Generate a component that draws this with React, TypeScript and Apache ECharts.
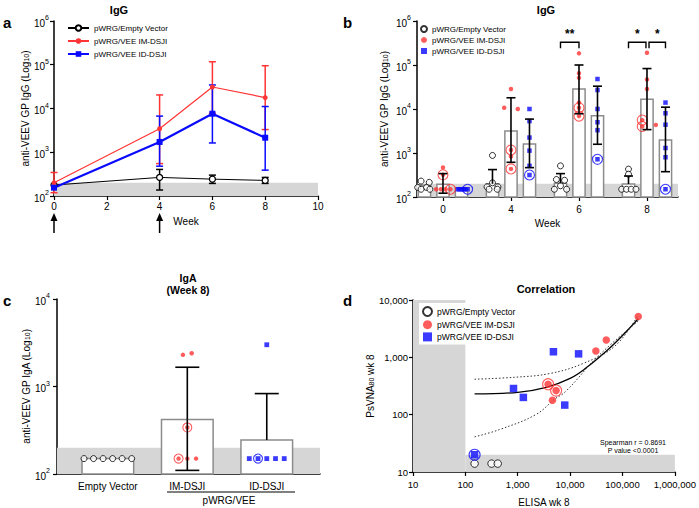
import React, { useEffect, useRef } from 'react';
import * as echarts from 'echarts';

const FONT = '"Liberation Sans", Arial, Helvetica, sans-serif';
const RED = '#ff3434';
const BLUE = '#0a0aff';
const BAND = '#d6d6d6';
const BARLINE = '#8c8c8c';

const NAME_EMPTY = 'pWRG/Empty Vector';
const NAME_IM = 'pWRG/VEE IM-DSJI';
const NAME_ID = 'pWRG/VEE ID-DSJI';
const LOD_LOW = 100;
const LOD_HIGH = 200;

// ---------- panel a ----------
const aWeeks = [0, 4, 6, 8];
const aEmptyMean = [178, 266, 243, 227];
const aEmptyLow = [178, 137, 194, 194];
const aEmptyHigh = [178, 405, 300, 266];
const aImMean = [200, 3450, 31000, 17800];
const aImLow = [119, 550, 7800, 3300];
const aImHigh = [345, 20400, 117000, 95000];
const aIdMean = [155, 1720, 7600, 2150];
const aIdLow = [155, 480, 1630, 390];
const aIdHigh = [155, 6700, 34500, 11100];
const aDoseWeeks = [0, 4];

// ---------- panel b ----------
const bWeeks = ['0', '4', '6', '8'];
const bEmptyMean = [185, 200, 205, 197];
const bEmptyLow = [185, 200, 205, 197];
const bEmptyHigh = [185, 420, 340, 300];
const bImMean = [195, 3160, 28500, 16600];
const bImLow = [122, 615, 7800, 3400];
const bImHigh = [340, 18000, 100000, 83000];
const bIdMean = [160, 1600, 7000, 1970];
const bIdLow = [160, 465, 1580, 376];
const bIdHigh = [160, 5900, 33000, 11000];

const bEmptyPts = [
  [230, 215, 165, 165, 150, 150],
  [880, 210, 170, 170, 150, 150],
  [510, 250, 240, 180, 150, 150],
  [430, 330, 150, 150, 150, 150],
];
const bEmptyJit = [
  [-0.05, 0.07, -0.1, 0.03, -0.05, 0.08],
  [0, 0, -0.08, 0.08, -0.05, 0.07],
  [0, -0.06, 0.06, 0, -0.09, 0.09],
  [0, 0, -0.1, -0.03, 0.04, 0.11],
];
const bImPts = [
  [470, 320, 150, 150, 150, 150],
  [28500, 10700, 10000, 1170, 830, 435],
  [184000, 65000, 51000, 13900, 10700, 6900],
  [190000, 47000, 28500, 5600, 4350, 4000],
];
const bImJit = [
  [0, 0, -0.1, -0.03, 0.04, 0.11],
  [0, -0.1, 0.1, 0, 0, 0],
  [0, 0, 0, 0, 0, 0],
  [0, 0, 0, -0.07, 0.13, -0.07],
];
const bImCircled = [[1, 5], [3, 5], [4, 5], [3, 5]];
const bIdPts = [
  [150, 150, 150, 150, 150, 150],
  [10000, 5300, 2240, 1130, 510, 316],
  [48000, 27000, 10000, 5000, 3300, 720],
  [14000, 8000, 4400, 1300, 800, 150],
];
const bIdJit = [
  [-0.06, -0.03, 0, 0.03, 0.05, 0.09],
  [0, 0, 0, 0, 0, 0],
  [0, 0, 0, 0, 0, 0],
  [0, 0, 0, 0, 0, 0],
];
const bIdCircled = [[5], [5], [5], [5]];
// significance brackets: group index, from series, to series, label
const bSigGroup = [2, 3, 3];
const bSigFrom = [0, 0, 1];
const bSigTo = [1, 1, 2];
const bSigLabel = ['**', '*', '*'];
const bSigTop = 328000;
const bSigLeg = 240000;

// ---------- panel c ----------
const cCats = ['Empty Vector', 'IM-DSJI', 'ID-DSJI'];
const cMean = [150, 420, 245];
const cLow = [150, 110, 245];
const cHigh = [150, 1660, 830];
const cEmptyPts = [150, 150, 150, 150, 150, 150];
const cEmptyJit = [-0.3, -0.18, -0.06, 0.06, 0.18, 0.3];
const cImPts = [2300, 2400, 340, 150, 150, 150];
const cImJit = [-0.055, 0.055, 0, -0.11, 0, 0.11];
const cImCircled = [2, 3];
const cIdPts = [3000, 150, 150, 150, 150, 150];
const cIdJit = [0, -0.22, -0.11, 0, 0.11, 0.22];
const cIdCircled = [2];

// ---------- panel d ----------
const dEmpty = [[150, 14], [316, 14], [415, 14]];
const dIm = [[200000, 5150], [49000, 2000], [31000, 1290], [3800, 340], [5400, 263], [4600, 178]];
const dImCircled = [3, 4];
const dId = [[4800, 1250], [14500, 1150], [830, 286], [1280, 200], [7900, 147], [150, 20]];
const dIdCircled = [5];
const dFit = [[150, 230], [1000, 245], [3500, 300], [10000, 430], [20000, 650], [50000, 1300], [100000, 2400], [200000, 4700]];
const dUpper = [[150, 415], [900, 450], [4000, 520], [17000, 770], [72000, 1580], [200000, 5500]];
const dLower = [[150, 41], [450, 55], [2200, 100], [5200, 190], [8100, 250], [35000, 1070], [200000, 4300]];
const dBands = [[10, 10, 100, 10000], [100, 10, 1000000, 20]];
const dStats = ['Spearman r = 0.8691', 'P value <0.0001'];

const B_OFF = [-0.272, 0, 0.272];

const axisLine = { show: true, onZero: false, lineStyle: { color: '#000', width: 1.5 } };
const axisTick = { show: true, length: 4, lineStyle: { color: '#000', width: 1.2 } };
const supRich = {
  n: { fontSize: 10, fontFamily: FONT, color: '#000', lineHeight: 14, verticalAlign: 'bottom' },
  s: { fontSize: 7, fontFamily: FONT, color: '#000', lineHeight: 7, verticalAlign: 'top' },
};
const subRich = {
  sub: { fontSize: 7, fontFamily: FONT, color: '#000', verticalAlign: 'bottom', lineHeight: 7 },
};
const logFmt = (v: number) => `{n|10}{s|${Math.round(Math.log10(v))}}`;
const commaFmt = (v: number) => Math.round(v).toLocaleString('en-US');

function bandSeries(xi: number, lo: number, hi: number) {
  return {
    type: 'custom', xAxisIndex: xi, yAxisIndex: xi, z: 1, silent: true, clip: false,
    encode: { x: 0, y: 1 },
    data: [[0, lo, hi]],
    renderItem: (params: any, api: any) => {
      const cs = params.coordSys;
      const yl = api.coord([0, api.value(1)])[1];
      const yh = api.coord([0, api.value(2)])[1];
      return { type: 'rect', shape: { x: cs.x, y: yh, width: cs.width, height: yl - yh }, style: { fill: BAND } };
    },
  };
}

function barSeries(xi: number, data: number[][], w: number) {
  return {
    type: 'custom', xAxisIndex: xi, yAxisIndex: xi, z: 2, silent: true, clip: false,
    encode: { x: 0, y: 1 },
    data,
    renderItem: (params: any, api: any) => {
      const x = api.value(0), v = api.value(1);
      const pl = api.coord([x - w / 2, v]);
      const pr = api.coord([x + w / 2, v]);
      const bottom = params.coordSys.y + params.coordSys.height;
      return {
        type: 'rect',
        shape: { x: pl[0], y: pl[1], width: pr[0] - pl[0], height: bottom - pl[1] },
        style: { fill: '#fff', stroke: BARLINE, lineWidth: 1.5 },
      };
    },
  };
}

function errSeries(xi: number, data: number[][], color: string, cap: number, lw: number, z: number) {
  return {
    type: 'custom', xAxisIndex: xi, yAxisIndex: xi, z, silent: true, clip: false,
    encode: { x: 0, y: 1 },
    data,
    renderItem: (params: any, api: any) => {
      const x = api.value(0), m = api.value(1), lo = api.value(2), hi = api.value(3);
      const pm = api.coord([x, m]);
      const pl = api.coord([x, lo]);
      const ph = api.coord([x, hi]);
      const st = { stroke: color, lineWidth: lw };
      const ch: any[] = [];
      if (hi > m) {
        ch.push({ type: 'line', shape: { x1: pm[0], y1: pm[1], x2: ph[0], y2: ph[1] }, style: st });
        ch.push({ type: 'line', shape: { x1: ph[0] - cap / 2, y1: ph[1], x2: ph[0] + cap / 2, y2: ph[1] }, style: st });
      }
      if (lo < m) {
        ch.push({ type: 'line', shape: { x1: pm[0], y1: pm[1], x2: pl[0], y2: pl[1] }, style: st });
        ch.push({ type: 'line', shape: { x1: pl[0] - cap / 2, y1: pl[1], x2: pl[0] + cap / 2, y2: pl[1] }, style: st });
      }
      return { type: 'group', children: ch };
    },
  };
}

function scatter(name: string, xi: number, data: number[][], symbol: string, size: number, itemStyle: any, z = 4) {
  return {
    type: 'scatter', name, xAxisIndex: xi, yAxisIndex: xi, z, silent: true,
    symbol, symbolSize: size, itemStyle, data, emphasis: { disabled: true },
  };
}

const ring = (color: string) => ({ color: 'rgba(0,0,0,0)', borderColor: color, borderWidth: 1.1 });

function buildOption() {
  const series: any[] = [];

  // ===== panel a =====
  series.push(bandSeries(0, LOD_LOW, LOD_HIGH));
  const aErr = (mean: number[], lo: number[], hi: number[]) => aWeeks.map((w, i) => [w, mean[i], lo[i], hi[i]]);
  series.push(errSeries(0, aErr(aEmptyMean, aEmptyLow, aEmptyHigh), '#000', 7, 1.5, 3));
  series.push(errSeries(0, aErr(aImMean, aImLow, aImHigh), RED, 7, 1.5, 3));
  series.push(errSeries(0, aErr(aIdMean, aIdLow, aIdHigh), BLUE, 7, 1.5, 3));
  series.push({
    type: 'line', name: NAME_EMPTY, xAxisIndex: 0, yAxisIndex: 0, z: 5, silent: true,
    data: aWeeks.map((w, i) => [w, aEmptyMean[i]]),
    symbol: 'circle', symbolSize: 6,
    itemStyle: { color: '#fff', borderColor: '#000', borderWidth: 1.3 },
    lineStyle: { color: '#000', width: 1 },
  });
  series.push({
    type: 'line', name: NAME_IM, xAxisIndex: 0, yAxisIndex: 0, z: 5, silent: true,
    data: aWeeks.map((w, i) => [w, aImMean[i]]),
    symbol: 'circle', symbolSize: 5,
    itemStyle: { color: RED },
    lineStyle: { color: RED, width: 1.2 },
  });
  series.push({
    type: 'line', name: NAME_ID, xAxisIndex: 0, yAxisIndex: 0, z: 5, silent: true,
    data: aWeeks.map((w, i) => [w, aIdMean[i]]),
    symbol: 'rect', symbolSize: 6,
    itemStyle: { color: BLUE },
    lineStyle: { color: BLUE, width: 2.2 },
  });
  series.push({
    type: 'custom', xAxisIndex: 0, yAxisIndex: 0, z: 5, silent: true, clip: false,
    encode: { x: 0, y: 1 },
    data: aDoseWeeks.map((w) => [w, LOD_LOW]),
    renderItem: (params: any, api: any) => {
      const p = api.coord([api.value(0), api.value(1)]);
      const x = p[0], y0 = p[1];
      return {
        type: 'group', children: [
          { type: 'line', shape: { x1: x, y1: y0 + 24, x2: x, y2: y0 + 37 }, style: { stroke: '#000', lineWidth: 1.5 } },
          { type: 'polygon', shape: { points: [[x, y0 + 17], [x - 3.5, y0 + 25], [x + 3.5, y0 + 25]] }, style: { fill: '#000' } },
        ],
      };
    },
  });

  // ===== panel b =====
  series.push(bandSeries(1, LOD_LOW, LOD_HIGH));
  const bMeans = [bEmptyMean, bImMean, bIdMean];
  const bLows = [bEmptyLow, bImLow, bIdLow];
  const bHighs = [bEmptyHigh, bImHigh, bIdHigh];
  bMeans.forEach((m, s) => {
    series.push(barSeries(1, m.map((v, g) => [g + B_OFF[s], v]), 0.18));
  });
  const bPts = [bEmptyPts, bImPts, bIdPts];
  const bJit = [bEmptyJit, bImJit, bIdJit];
  const flat = (s: number) => {
    const out: number[][] = [];
    bPts[s].forEach((arr, g) => arr.forEach((v, k) => out.push([g + B_OFF[s] + bJit[s][g][k], v])));
    return out;
  };
  const circ = (s: number, idx: number[][]) => {
    const out: number[][] = [];
    idx.forEach((list, g) => list.forEach((k) => out.push([g + B_OFF[s] + bJit[s][g][k], bPts[s][g][k]])));
    return out;
  };
  series.push(scatter(NAME_EMPTY + ' ', 1, flat(0), 'circle', 6, { color: '#fff', borderColor: '#000', borderWidth: 1 }));
  series.push(scatter(NAME_IM + ' ', 1, flat(1), 'circle', 4.5, { color: RED }));
  series.push(scatter(NAME_ID + ' ', 1, flat(2), 'rect', 4.5, { color: BLUE }));
  series.push(scatter('bImRing', 1, circ(1, bImCircled), 'circle', 10, ring(RED)));
  series.push(scatter('bIdRing', 1, circ(2, bIdCircled), 'circle', 10, ring(BLUE)));
  bMeans.forEach((m, s) => {
    series.push(errSeries(1, m.map((v, g) => [g + B_OFF[s], v, bLows[s][g], bHighs[s][g]]), '#000', 9, 1.6, 6));
  });
  series.push({
    type: 'custom', xAxisIndex: 1, yAxisIndex: 1, z: 6, silent: true, clip: false,
    encode: { x: 0, y: 2 },
    data: bSigGroup.map((g, i) => [
      g + B_OFF[bSigFrom[i]] + (bSigFrom[i] === 1 ? 0.03 : 0),
      g + B_OFF[bSigTo[i]] - (bSigTo[i] === 1 && bSigFrom[i] === 0 && g === 3 ? 0.015 : 0),
      bSigTop, bSigLeg,
    ]),
    renderItem: (params: any, api: any) => {
      const x1 = api.value(0), x2 = api.value(1), yt = api.value(2), yl = api.value(3);
      const p1 = api.coord([x1, yt]);
      const p2 = api.coord([x2, yt]);
      const l1 = api.coord([x1, yl]);
      const st = { stroke: '#000', lineWidth: 1.4 };
      return {
        type: 'group', children: [
          { type: 'polyline', shape: { points: [[p1[0], l1[1]], [p1[0], p1[1]], [p2[0], p2[1]], [p2[0], l1[1]]] }, style: { ...st, fill: null } },
          { type: 'text', x: (p1[0] + p2[0]) / 2, y: p1[1] - 2, style: { text: bSigLabel[params.dataIndex], align: 'center', verticalAlign: 'bottom', font: `bold 12px ${FONT}`, fill: '#000' } },
        ],
      };
    },
  });

  // ===== panel c =====
  series.push(bandSeries(2, LOD_LOW, LOD_HIGH));
  series.push(barSeries(2, cMean.map((v, i) => [i, v]), 0.65));
  series.push(scatter('cEmpty', 2, cEmptyPts.map((v, k) => [0 + cEmptyJit[k], v]), 'circle', 6, { color: '#fff', borderColor: '#000', borderWidth: 1 }));
  series.push(scatter('cIm', 2, cImPts.map((v, k) => [1 + cImJit[k], v]), 'circle', 4.5, { color: RED }));
  series.push(scatter('cId', 2, cIdPts.map((v, k) => [2 + cIdJit[k], v]), 'rect', 4.8, { color: BLUE }));
  series.push(scatter('cImRing', 2, cImCircled.map((k) => [1 + cImJit[k], cImPts[k]]), 'circle', 9, ring(RED)));
  series.push(scatter('cIdRing', 2, cIdCircled.map((k) => [2 + cIdJit[k], cIdPts[k]]), 'circle', 9, ring(BLUE)));
  series.push(errSeries(2, cMean.map((v, i) => [i, v, cLow[i], cHigh[i]]), '#000', 24, 1.6, 6));

  // ===== panel d =====
  series.push({
    type: 'custom', xAxisIndex: 3, yAxisIndex: 3, z: 1, silent: true, clip: false,
    encode: { x: [0, 2], y: [1, 3] },
    data: dBands,
    renderItem: (params: any, api: any) => {
      const a = api.coord([api.value(0), api.value(1)]);
      const b = api.coord([api.value(2), api.value(3)]);
      return { type: 'rect', shape: { x: a[0], y: b[1], width: b[0] - a[0], height: a[1] - b[1] }, style: { fill: BAND } };
    },
  });
  series.push({
    type: 'line', name: 'dFit', xAxisIndex: 3, yAxisIndex: 3, z: 3, silent: true, data: dFit,
    smooth: 0.4, symbol: 'none', lineStyle: { color: '#000', width: 1.3 },
  });
  series.push({
    type: 'line', name: 'dUpper', xAxisIndex: 3, yAxisIndex: 3, z: 3, silent: true, data: dUpper,
    smooth: 0.4, symbol: 'none', lineStyle: { color: '#333', width: 1, type: [1.5, 2] },
  });
  series.push({
    type: 'line', name: 'dLower', xAxisIndex: 3, yAxisIndex: 3, z: 3, silent: true, data: dLower,
    smooth: 0.4, symbol: 'none', lineStyle: { color: '#333', width: 1, type: [1.5, 2] },
  });
  series.push(scatter(NAME_EMPTY + '  ', 3, dEmpty, 'circle', 7.5, { color: '#fff', borderColor: '#000', borderWidth: 1 }));
  series.push(scatter(NAME_IM + '  ', 3, dIm, 'circle', 7.5, { color: RED }));
  series.push(scatter(NAME_ID + '  ', 3, dId, 'rect', 7.5, { color: BLUE }));
  series.push(scatter('dImRing', 3, dImCircled.map((k) => dIm[k]), 'circle', 11, ring(RED), 5));
  series.push(scatter('dIdRing', 3, dIdCircled.map((k) => dId[k]), 'circle', 11, ring(BLUE), 5));

  const tickLabel = { color: '#000', fontFamily: FONT, fontSize: 10 };
  const nameStyle = { color: '#000', fontFamily: FONT, fontSize: 10, rich: subRich };

  const logY = (gi: number, min: number, max: number, margin: number, name: string, gap: number, fmt: any) => ({
    type: 'log', gridIndex: gi, min, max, logBase: 10,
    axisLine, axisTick, splitLine: { show: false }, minorTick: { show: false },
    axisLabel: { ...tickLabel, margin, formatter: fmt, rich: supRich },
    name, nameLocation: 'middle', nameGap: gap, nameRotate: 90, nameTextStyle: nameStyle,
  });

  return {
    animation: false,
    backgroundColor: '#fff',
    textStyle: { fontFamily: FONT },
    grid: [
      { left: 54, top: 21, width: 264, height: 175 },
      { left: 417, top: 21, width: 261, height: 176 },
      { left: 57, top: 299, width: 263, height: 175 },
      { left: 413, top: 300, width: 264, height: 175 },
    ],
    xAxis: [
      {
        type: 'value', gridIndex: 0, min: 0, max: 10, interval: 2,
        axisLine, axisTick, splitLine: { show: false },
        axisLabel: { ...tickLabel, margin: 5 },
        name: 'Week', nameLocation: 'middle', nameGap: 20, nameTextStyle: nameStyle,
      },
      {
        type: 'value', gridIndex: 1, min: -0.382, max: 3.456,
        axisLine, axisTick: { ...axisTick, customValues: [0, 1, 2, 3] }, splitLine: { show: false },
        axisLabel: { ...tickLabel, margin: 7, customValues: [0, 1, 2, 3], formatter: (v: number) => bWeeks[Math.round(v)] },
        name: 'Week', nameLocation: 'middle', nameGap: 21, nameTextStyle: nameStyle,
      },
      {
        type: 'value', gridIndex: 2, min: -0.64, max: 2.67,
        axisLine, axisTick: { show: false }, splitLine: { show: false },
        axisLabel: { ...tickLabel, margin: 7, customValues: [0, 1, 2], formatter: (v: number) => cCats[Math.round(v)] },
      },
      {
        type: 'log', gridIndex: 3, min: 10, max: 1000000, logBase: 10,
        axisLine, axisTick, splitLine: { show: false }, minorTick: { show: false },
        axisLabel: { ...tickLabel, fontSize: 9.5, margin: 7, formatter: commaFmt },
        name: 'ELISA wk 8', nameLocation: 'middle', nameGap: 25, nameTextStyle: nameStyle,
      },
    ],
    yAxis: [
      logY(0, 100, 1000000, 5, 'anti-VEEV GP IgG (Log{sub|10})', 21, logFmt),
      logY(1, 100, 1000000, 6, 'anti-VEEV GP IgG (Log{sub|10})', 28, logFmt),
      logY(2, 100, 10000, 7, 'anti-VEEV GP IgA (Log{sub|10})', 24, logFmt),
      {
        ...logY(3, 10, 10000, 5, 'PsVNA{sub|80} wk 8', 38, commaFmt),
        axisLabel: { ...tickLabel, fontSize: 9.5, margin: 5, formatter: commaFmt },
      },
    ],
    legend: [
      {
        data: [NAME_EMPTY, NAME_IM, NAME_ID], orient: 'vertical', left: 67, top: 24,
        itemWidth: 21, itemHeight: 7, itemGap: 5, padding: 0, selectedMode: false,
        textStyle: { fontSize: 8, fontFamily: FONT, color: '#000' },
        formatter: (n: string) => n.trim(),
      },
      {
        data: [NAME_EMPTY + ' ', NAME_IM + ' ', NAME_ID + ' '], orient: 'vertical', left: 420, top: 25,
        itemWidth: 6, itemHeight: 6, itemGap: 3, padding: 0, selectedMode: false,
        textStyle: { fontSize: 8, fontFamily: FONT, color: '#000' },
        formatter: (n: string) => n.trim(),
      },
      {
        data: [NAME_EMPTY + '  ', NAME_IM + '  ', NAME_ID + '  '], orient: 'vertical', left: 419, top: 303,
        itemWidth: 9, itemHeight: 9, itemGap: 3.2, padding: [3, 4, 3, 3], selectedMode: false,
        backgroundColor: '#fff',
        textStyle: { fontSize: 8.5, fontFamily: FONT, color: '#000' },
        formatter: (n: string) => n.trim(),
      },
    ],
    graphic: [
      { type: 'text', x: 3, y: 22, style: { text: 'a', font: `bold 15px ${FONT}`, fill: '#000', verticalAlign: 'middle' } },
      { type: 'text', x: 343, y: 22, style: { text: 'b', font: `bold 15px ${FONT}`, fill: '#000', verticalAlign: 'middle' } },
      { type: 'text', x: 3, y: 300, style: { text: 'c', font: `bold 15px ${FONT}`, fill: '#000', verticalAlign: 'middle' } },
      { type: 'text', x: 343, y: 300, style: { text: 'd', font: `bold 15px ${FONT}`, fill: '#000', verticalAlign: 'middle' } },
      { type: 'text', x: 119, y: 10, style: { text: 'IgG', font: `bold 11px ${FONT}`, fill: '#000', align: 'center', verticalAlign: 'middle' } },
      { type: 'text', x: 546, y: 10, style: { text: 'IgG', font: `bold 11px ${FONT}`, fill: '#000', align: 'center', verticalAlign: 'middle' } },
      { type: 'text', x: 188, y: 278, style: { text: 'IgA', font: `bold 10.5px ${FONT}`, fill: '#000', align: 'center', verticalAlign: 'middle' } },
      { type: 'text', x: 188, y: 289.5, style: { text: '(Week 8)', font: `bold 10.5px ${FONT}`, fill: '#000', align: 'center', verticalAlign: 'middle' } },
      { type: 'text', x: 546, y: 289, style: { text: 'Correlation', font: `bold 11px ${FONT}`, fill: '#000', align: 'center', verticalAlign: 'middle' } },
      { type: 'text', x: 633, y: 442, style: { text: dStats[0], font: `7px ${FONT}`, fill: '#000', align: 'center', verticalAlign: 'middle' } },
      { type: 'text', x: 633, y: 450.5, style: { text: dStats[1], font: `7px ${FONT}`, fill: '#000', align: 'center', verticalAlign: 'middle' } },
      { type: 'line', shape: { x1: 167, y1: 492, x2: 295, y2: 492 }, style: { stroke: '#000', lineWidth: 1 } },
      { type: 'text', x: 229, y: 500, style: { text: 'pWRG/VEE', font: `10px ${FONT}`, fill: '#000', align: 'center', verticalAlign: 'middle' } },
    ],
    series,
  };
}

export default function App() {
  const ref = useRef<HTMLDivElement>(null);
  useEffect(() => {
    document.body.style.margin = '0';
    if (!ref.current) return;
    const chart = echarts.init(ref.current, undefined, { renderer: 'svg' });
    chart.setOption(buildOption() as any);
    return () => chart.dispose();
  }, []);
  return <div ref={ref} style={{ width: 699, height: 508 }} />;
}
